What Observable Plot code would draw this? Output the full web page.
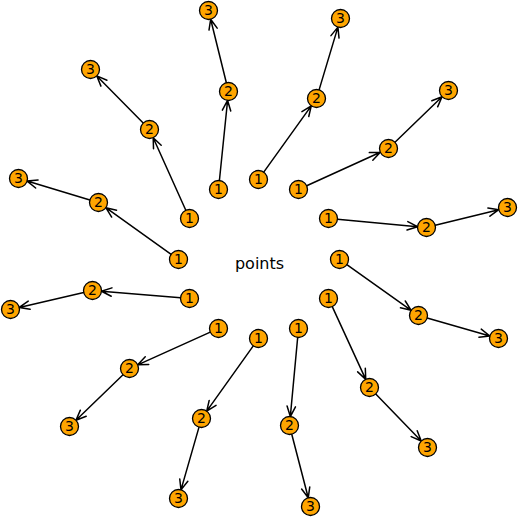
<!DOCTYPE html>
<html>
<head>
<meta charset="utf-8">
<script src="https://cdn.jsdelivr.net/npm/d3@7"></script>
<script src="https://cdn.jsdelivr.net/npm/@observablehq/plot@0.6"></script>
<style>body{margin:0;background:#fff}</style>
</head>
<body>
<div id="chart"></div>
<script>
// node positions per spoke: [node1, node2, node3]
const spokeX = [
  [218, 228, 208], [258, 316, 340], [298, 388, 448], [328, 426, 507],
  [339, 418, 498], [328, 369, 427], [298, 289, 310], [258, 201, 178],
  [218, 129, 69],  [189, 92, 10],   [178, 98, 18],   [189, 149, 90]
];
const spokeY = [
  [189, 91, 10],   [179, 98, 18],   [189, 148, 90],  [218, 227, 207],
  [259, 315, 338], [298, 387, 447], [328, 425, 506], [338, 418, 498],
  [328, 368, 426], [298, 290, 309], [259, 202, 178], [218, 129, 69]
];
const labels = ["1", "2", "3"];
const centerLabel = "points";

const nodes = [];
const edges = [];
spokeX.forEach((xs, s) => {
  xs.forEach((x, i) => nodes.push({x, y: spokeY[s][i], label: labels[i]}));
  for (let i = 0; i < 2; i++) {
    edges.push({x1: xs[i], y1: spokeY[s][i], x2: xs[i + 1], y2: spokeY[s][i + 1]});
  }
});

const plot = Plot.plot({
  width: 518,
  height: 518,
  margin: 0,
  x: {domain: [0, 518], axis: null},
  y: {domain: [0, 518], axis: null, reverse: true},
  style: {fontFamily: "DejaVu Sans", background: "#fff"},
  marks: [
    Plot.arrow(edges, {
      x1: "x1", y1: "y1", x2: "x2", y2: "y2",
      stroke: "black", strokeWidth: 1.5,
      insetStart: 9, insetEnd: 9, headLength: 11, headAngle: 45
    }),
    Plot.dot(nodes, {x: "x", y: "y", r: 9, fill: "orange", stroke: "black", strokeWidth: 1.3}),
    Plot.text(nodes, {x: "x", y: "y", text: "label", fontSize: 14, fill: "black"}),
    Plot.text([{x: 259, y: 263}], {x: "x", y: "y", text: () => centerLabel, fontSize: 16, fill: "black"})
  ]
});
document.getElementById("chart").append(plot);
</script>
</body>
</html>
